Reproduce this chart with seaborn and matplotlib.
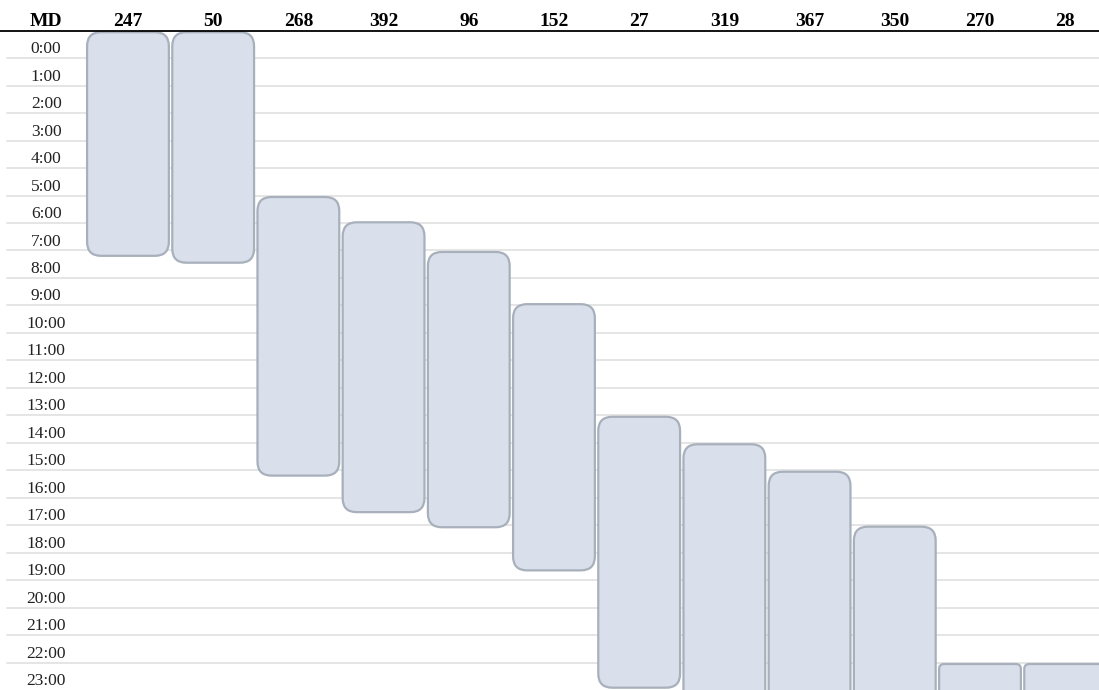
import matplotlib
matplotlib.use("Agg")
import matplotlib.pyplot as plt
from matplotlib.patches import FancyBboxPatch
import pandas as pd
import seaborn as sns

# Columns (header) and the hour span of each block, in hours from 0:00.
# Blocks that run past midnight are given an end after 24.
columns = ["247", "50", "268", "392", "96", "152", "27", "319", "367", "350", "270", "28"]
start_hour = [0.0, 0.0, 6.0, 6.92, 8.0, 9.9, 14.0, 15.0, 16.0, 18.0, 23.0, 23.0]
end_hour = [8.25, 8.5, 16.25, 17.58, 18.13, 19.7, 23.97, 25.0, 25.0, 25.0, 25.0, 25.0]
hour_labels = [f"{h}:00" for h in range(24)]
corner_label = "MD"

df = pd.DataFrame({"col": columns, "start": start_hour, "end": end_hour})
df["duration"] = df["end"] - df["start"]

sns.set_theme(style="white")
plt.rcParams["font.family"] = ["Liberation Serif", "DejaVu Serif"]

W, H = 1099, 690
fig = plt.figure(figsize=(W / 100, H / 100), dpi=100)
header_px = 30.7
ax = fig.add_axes([0, 0, 1, 1 - header_px / H])

fill = "#d9e0ec"
edge = "#a8b0bb"

sns.barplot(data=df, x="col", y="end", order=columns, errorbar=None,
            width=0.96, color=fill, ax=ax)

ax.set_xlim(-1.502, 11.397)
ax.set_ylim(24, 0)

# px per data unit, for rounding corners evenly
px_x = W / (11.397 + 1.502)
px_y = (H - header_px) / 24
aspect = px_x / px_y
inset = 1.5 / px_y

bars = list(ax.patches)
for p, (_, row) in zip(bars, df.iterrows()):
    x0, w = p.get_x(), p.get_width()
    p.remove()
    radius_px = 14 if (24 - row["start"]) > 2 else 5
    box = FancyBboxPatch(
        (x0, row["start"] + inset), w, row["duration"] - 2 * inset,
        boxstyle=f"round,pad=0,rounding_size={radius_px / px_x}",
        mutation_aspect=aspect,
        facecolor=fill, edgecolor=edge, linewidth=1.6, zorder=3,
    )
    ax.add_patch(box)

# hour row lines
for h in range(1, 24):
    ax.axhline(h, xmin=7 / W, xmax=1, color="#e3e3e3", linewidth=1.3, zorder=1)

# hour labels
for h, lab in enumerate(hour_labels):
    ax.text(-0.96, h + 0.82, lab, ha="center", va="baseline",
            fontsize=12.5, color="#222222", zorder=4)

# header
ax.text(-0.96, -0.17, corner_label, ha="center", va="baseline",
        fontsize=14, fontweight="bold", color="black", clip_on=False)
for i, c in enumerate(columns):
    ax.text(i, -0.17, c, ha="center", va="baseline",
            fontsize=14, fontweight="bold", color="black", clip_on=False)

ax.set_xlabel("")
ax.set_ylabel("")
ax.set_xticks([])
ax.set_yticks([])
for s in ["left", "right", "bottom"]:
    ax.spines[s].set_visible(False)
ax.spines["top"].set_visible(True)
ax.spines["top"].set_color("black")
ax.spines["top"].set_linewidth(1.3)
ax.spines["top"].set_zorder(5)

fig.savefig("out.png", dpi=100)
